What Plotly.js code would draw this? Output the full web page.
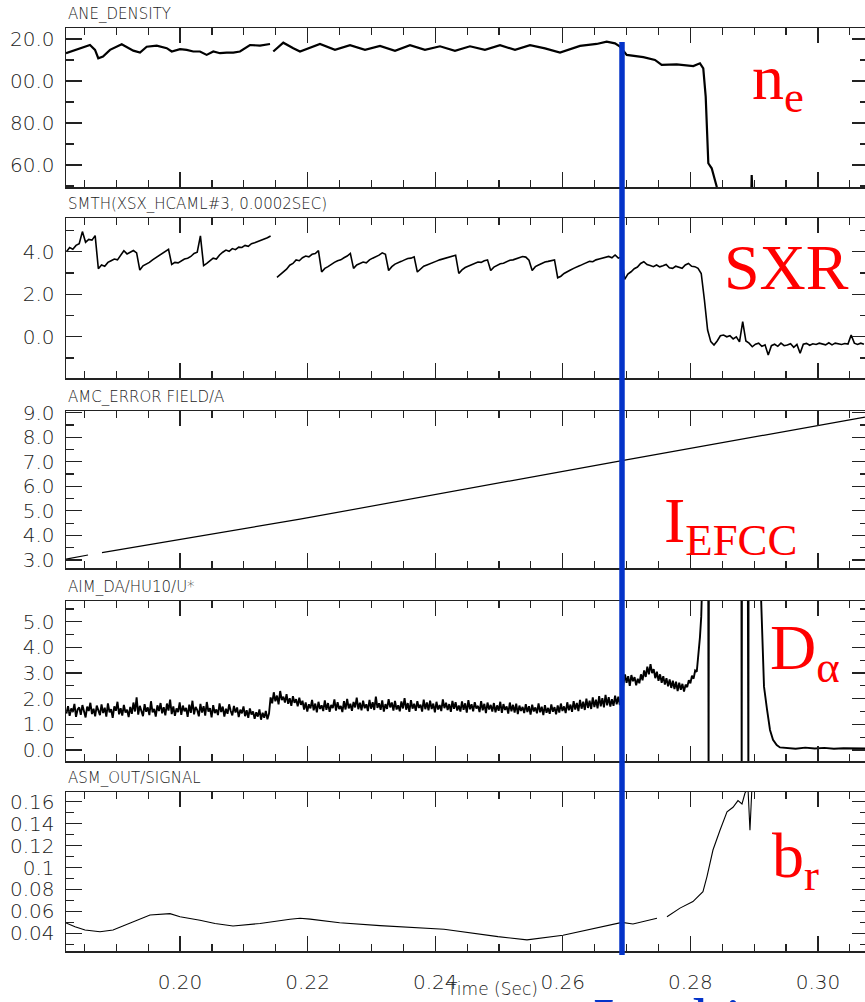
<!DOCTYPE html>
<html>
<head>
<meta charset="utf-8">
<script src="https://cdn.plot.ly/plotly-3.0.1.min.js"></script>
<style>
html,body{margin:0;padding:0;overflow:hidden;background:#fff;width:865px;height:1002px}
#chart{width:870px;height:1002px}
</style>
</head>
<body>
<div id="chart"></div>
<script>
// ---------------- DATA ----------------
const timeRange = [0.18213, 0.30784];
const lockTime = 0.26928;           // blue vertical marker (s)
const lockLabel = 'Locking';        // blue caption below the plot (cut by the picture edge)

// Panel 1: ANE_DENSITY
const neTime = [0.18213,0.18381,0.18538,0.18589,0.18668,0.18719,0.18793,0.18903,0.19086,0.19165,0.19268,0.19373,0.19478,0.19635,0.19792,0.1987,0.2,0.20105,0.20208,0.20313,0.20418,0.20522,0.20627,0.20732,0.20835,0.2094,0.21097,0.21254,0.21411,0.2144,0.21462,0.21619,0.21776,0.21881,0.22194,0.22429,0.22665,0.229,0.23135,0.2337,0.23605,0.2384,0.24075,0.2431,0.24545,0.2478,0.25016,0.25251,0.25486,0.25721,0.25956,0.2627,0.26531,0.26688,0.26818,0.26897,0.27002,0.27262,0.27445,0.2755,0.27785,0.28046,0.2815,0.28202,0.2824,0.28281,0.28334,0.28412,0.2845,0.2895,0.28961,0.2898,0.3075];
const neValue = [113.2,114.8,116.3,117.1,114.8,110.8,111.6,114.8,117.5,116.3,114.4,113.5,116.3,116.8,115.6,114,115.1,114.8,114,114,112.4,114,113.2,113.5,113.5,114,117.1,116.8,117.6,null,114,118.2,115.6,114,117.6,114.8,117,114.8,116.7,114.3,117,114.8,116.5,114.3,116.5,114.8,117,114.8,117,115.5,113.5,116.7,117.6,118.7,117.9,116.3,112.4,111.3,110,107.6,107.9,107.1,108.4,106,92.5,60.8,58.4,49.7,40,40,55.2,40,40];
const neTickAlias = {"120.0": "20.0", "100.0": "00.0"};

// Panel 2: SMTH(XSX_HCAML#3, 0.0002SEC) — sampled every sxrStep from sxrStart
const sxrStart = 0.1822, sxrStep = 0.0005;
const sxrValue = [
4.00,4.20,4.12,4.30,4.38,4.95,4.45,4.58,4.55,4.76,
3.20,3.38,3.32,3.50,3.58,3.66,3.62,3.82,4.05,3.90,
3.98,4.06,3.95,3.14,3.34,3.42,3.50,3.62,3.72,3.80,
3.92,4.02,4.12,3.40,3.50,3.48,3.58,3.66,3.70,3.78,
3.92,3.98,4.75,3.35,3.45,3.58,3.70,3.66,3.85,3.98,
4.08,4.02,4.15,4.10,4.22,4.20,4.30,4.26,4.38,4.42,
4.48,4.52,4.58,4.66,4.74,null,2.80,2.92,3.05,3.18,
3.37,3.45,3.62,3.58,3.72,3.80,3.76,3.88,3.92,4.05,
3.05,3.22,3.30,3.42,3.50,3.58,3.62,3.72,3.80,3.92,
3.22,3.38,3.45,3.52,3.48,3.62,3.70,3.76,3.84,3.95,
3.88,3.12,3.30,3.42,3.50,3.55,3.62,3.68,3.70,3.76,
3.05,3.20,3.32,3.38,3.45,3.50,3.56,3.62,3.66,3.72,
3.74,3.80,3.84,2.98,3.15,3.26,3.32,3.40,3.44,3.52,
3.50,3.58,3.62,3.12,3.28,3.36,3.44,3.46,3.55,3.60,
3.62,3.68,3.72,3.78,3.75,3.60,3.12,3.30,3.38,3.45,
3.52,3.55,3.60,3.62,2.78,2.85,2.98,3.08,3.14,3.22,
3.30,3.35,3.42,3.48,3.55,3.53,3.62,3.66,3.70,3.75,
3.78,3.72,3.85,3.70,3.76,2.70,2.95,3.06,3.20,3.28,
3.45,3.53,3.40,3.35,3.30,3.38,3.29,3.34,3.40,3.25,
3.22,3.32,3.28,3.22,3.38,3.45,3.32,3.30,3.22,2.98,
1.73,0.32,-0.23,-0.39,-0.20,0.05,0.08,0.00,0.05,-0.10,
0.00,-0.24,0.71,-0.20,-0.30,-0.47,-0.35,-0.30,-0.45,-0.38,
-0.86,-0.42,-0.35,-0.45,-0.30,-0.42,-0.39,-0.33,-0.50,-0.36,
-0.78,-0.35,-0.31,-0.40,-0.33,-0.36,-0.30,-0.34,-0.38,-0.28,
-0.38,-0.30,-0.34,-0.36,-0.32,-0.34,0.08,-0.30,-0.36,-0.30,-0.35];

// Panel 3: AMC_ERROR FIELD/A
const efTime = [0.18213,0.18558,0.1862,0.18777,0.21881,0.26928,0.30737];
const efValue = [3.03,3.2,null,3.3,4.66,7.05,8.82];

// Panel 4: AIM_DA/HU10/U* — sampled every daStep; before the marker and after it
const daStart = 0.1822, daStep = 0.00025;
const daBefore = [
1.42,1.71,1.33,1.62,1.48,1.80,1.29,1.58,1.66,1.37,1.75,1.45,1.27,1.69,1.52,1.84,1.40,1.61,1.31,1.73,
1.50,1.36,1.78,1.44,1.65,1.30,1.82,1.47,1.59,1.25,1.70,1.53,1.88,1.39,1.63,1.34,1.76,1.46,1.57,1.28,
1.68,1.41,1.85,1.50,2.05,1.38,1.72,1.55,1.32,1.79,1.49,1.66,1.36,1.90,1.47,1.60,1.30,1.74,1.52,1.83,
1.43,1.67,1.35,1.81,1.54,1.96,1.40,1.70,1.33,1.62,1.48,1.86,1.37,1.73,1.51,1.64,1.29,1.77,1.45,1.92,
1.39,1.68,1.56,1.31,1.80,1.46,1.71,1.34,1.87,1.50,1.63,1.27,1.75,1.44,1.58,1.36,1.82,1.48,1.69,1.30,
1.61,1.41,1.78,1.52,1.35,1.72,1.46,1.66,1.28,1.57,1.43,1.70,1.32,1.55,1.25,1.62,1.38,1.50,1.22,1.47,
1.30,1.58,1.18,1.45,1.26,1.52,1.20,1.42,
2.05,1.82,2.25,1.90,2.12,1.78,2.30,1.95,2.08,1.85,2.18,1.80,2.02,1.72,2.10,1.84,1.98,1.70,2.04,1.76,
1.92,1.58,1.85,1.50,1.78,1.62,1.95,1.55,1.81,1.47,1.88,1.60,1.74,1.52,1.93,1.57,1.83,1.49,1.76,1.63,
1.97,1.54,1.86,1.60,1.72,1.48,1.90,1.58,1.99,1.62,1.80,1.53,1.87,1.66,2.04,1.59,1.84,1.55,1.92,1.63,
1.78,1.52,1.95,1.61,1.86,1.56,2.08,1.64,1.82,1.57,1.93,1.50,1.79,1.60,1.98,1.66,1.85,1.54,1.91,1.58,
1.74,1.51,1.89,1.62,2.02,1.57,1.83,1.49,1.94,1.61,1.80,1.53,1.90,1.64,1.77,1.50,1.96,1.59,1.85,1.55,
1.92,1.60,1.81,1.47,1.88,1.58,1.75,1.52,1.97,1.63,1.84,1.56,1.79,1.49,1.91,1.61,1.86,1.54,1.73,1.50,
1.89,1.57,1.82,1.46,1.94,1.59,1.78,1.51,1.86,1.62,1.72,1.48,1.90,1.55,1.80,1.44,1.85,1.58,1.76,1.50,
1.83,1.47,1.74,1.53,1.88,1.45,1.79,1.56,1.70,1.42,1.85,1.51,1.76,1.46,1.81,1.40,1.73,1.52,1.68,1.44,
1.79,1.48,1.71,1.38,1.77,1.50,1.66,1.43,1.82,1.47,1.69,1.36,1.75,1.45,1.64,1.41,1.78,1.49,1.67,1.39,
1.74,1.46,1.81,1.52,1.70,1.44,1.86,1.55,1.77,1.49,1.90,1.58,1.83,1.52,1.95,1.61,1.88,1.56,2.00,1.64,
1.92,1.60,2.05,1.67,1.96,1.62,2.10,1.70,2.02,1.66,2.15,1.74,2.06,1.69,1.98,1.72,2.12,1.78,2.08,1.75,
2.02];
const daAfterStart = 0.2695;
const daAfter = [
2.55,2.95,2.62,2.88,2.50,2.92,2.68,2.84,2.52,2.78,
2.60,2.95,2.72,3.10,2.85,3.25,2.95,3.35,3.00,3.15,
2.80,3.05,2.70,2.95,2.62,2.88,2.55,2.80,2.48,2.75,
2.42,2.70,2.38,2.66,2.30,2.62,2.35,2.58,2.28,2.55,
2.45,2.72,2.60,2.90,2.78,3.10,3.05,3.60,4.40];
const daSpikeTime = [0.2817,0.2819,0.2828,0.28285,0.2829,0.2880,0.28804,0.28808,0.2890,0.28903,0.28906,0.28909,0.28912,
  0.29107,0.29122,0.29154,0.292,0.29248,0.29295,0.29353,0.29404,0.2950,0.2965,0.2980,0.2995,0.3010,0.3025,0.3040,0.3074];
const daSpikeValue = [5.2,7,7,-1,7,7,-1,7,7,-1,7,-1,7,
  6,4.5,2.47,1.6,0.78,0.4,0.19,0.1,0.08,0.05,0.09,0.06,0.08,0.05,0.07,0.06];

// Panel 5: ASM_OUT/SIGNAL
const brTime = [0.18213,0.18354,0.18511,0.18746,0.1895,0.19216,0.1953,0.19843,0.2,0.20313,0.20549,0.20831,0.21254,0.21724,0.21881,0.2204,0.22502,0.23135,0.24138,0.24984,0.25439,0.26003,0.26395,0.26928,0.271,0.27476,0.2755,0.27633,0.27837,0.2804,0.28197,0.2826,0.28354,0.28464,0.28574,0.28668,0.28746,0.28809,0.28856,0.28903,0.28934,0.28966,0.2905,0.3074];
const brValue = [0.0495,0.046,0.043,0.0415,0.043,0.049,0.0567,0.058,0.0552,0.052,0.049,0.0467,0.049,0.0528,0.0537,0.053,0.0497,0.047,0.0437,0.037,0.034,0.0382,0.043,0.050,0.0485,0.0537,null,0.0552,0.063,0.069,0.078,0.0918,0.116,0.134,0.1508,0.155,0.161,0.158,0.168,0.172,0.134,0.175,0.2,0.2];

// ---------------- LAYOUT (pixels of the 865x1002 picture) ----------------
const H = 1002, PL = 66, PR = 868;
const panelPx = [[28,187],[218,378],[411,568],[601,761],[792,951]];
const px2x = px => (px - PL) / (PR - PL);
const px2y = py => 1 - py / H;
const sampled = (t0, dt, vals) => vals.map((_, i) => t0 + i * dt);

const lineCol = '#222';
const tickFont = {family: 'DejaVu Sans', size: 20, color: '#222', weight: 300};

function xAxis(i) {
  const ax = {
    domain: [0, 1], range: timeRange, anchor: 'y' + (i === 1 ? '' : i),
    showline: true, linecolor: lineCol, linewidth: 1.5, mirror: 'ticks',
    ticks: 'inside', ticklen: 15, tickwidth: 1.2, tickcolor: lineCol,
    tick0: 0.2, dtick: 0.02, tickformat: '.2f',
    minor: {ticks: 'inside', ticklen: 7, tickwidth: 1.2, tickcolor: lineCol, tick0: 0.2, dtick: 0.005, showgrid: false},
    showgrid: false, zeroline: false, showticklabels: i === 5,
    tickfont: tickFont, ticklabelstandoff: 12
  };
  if (i > 1) ax.matches = 'x';
  return ax;
}
function yAxis(i, range, dtick, minorDtick, fmt, extra) {
  const p = panelPx[i - 1];
  return Object.assign({
    domain: [px2y(p[1]), px2y(p[0])], range: range, anchor: 'x' + (i === 1 ? '' : i),
    showline: true, linecolor: lineCol, linewidth: 1.5, mirror: 'ticks',
    ticks: 'inside', ticklen: 16, tickwidth: 1.2, tickcolor: lineCol,
    tick0: 0, dtick: dtick, tickformat: fmt,
    minor: {ticks: 'inside', ticklen: 8, tickwidth: 1.2, tickcolor: lineCol, tick0: 0, dtick: minorDtick, showgrid: false},
    showgrid: false, zeroline: false, tickfont: tickFont, ticklabelstandoff: 6
  }, extra || {});
}

const traces = [
  {x: neTime, y: neValue, xaxis: 'x', yaxis: 'y', mode: 'lines', line: {color: '#000', width: 2.2}, connectgaps: false},
  {x: sampled(sxrStart, sxrStep, sxrValue), y: sxrValue, xaxis: 'x2', yaxis: 'y2', mode: 'lines', line: {color: '#000', width: 1.6}, connectgaps: false},
  {x: efTime, y: efValue, xaxis: 'x3', yaxis: 'y3', mode: 'lines', line: {color: '#000', width: 1.2}, connectgaps: false},
  {x: sampled(daStart, daStep, daBefore).concat(sampled(daAfterStart, daStep, daAfter), daSpikeTime),
   y: daBefore.concat(daAfter, daSpikeValue), xaxis: 'x4', yaxis: 'y4', mode: 'lines', line: {color: '#000', width: 1.9}},
  {x: brTime, y: brValue, xaxis: 'x5', yaxis: 'y5', mode: 'lines', line: {color: '#000', width: 1.1}, connectgaps: false}
];

const panelTitles = ['ANE_DENSITY', 'SMTH(XSX_HCAML#3, 0.0002SEC)', 'AMC_ERROR FIELD/A', 'AIM_DA/HU10/U*', 'ASM_OUT/SIGNAL'];
const titleFont = {family: 'DejaVu Sans', size: 15, color: '#222', weight: 300};
const annotations = panelTitles.map((t, i) => ({
  text: t, xref: 'paper', yref: 'paper', x: 0, y: px2y(panelPx[i][0] - 3),
  xanchor: 'left', yanchor: 'bottom', showarrow: false, font: titleFont
}));
annotations.push({text: 'Time (Sec)', xref: 'paper', yref: 'paper', x: px2x(492), y: px2y(989),
  xanchor: 'center', yanchor: 'middle', showarrow: false,
  font: {family: 'DejaVu Sans', size: 17, color: '#222', weight: 300}});
const redFont = {family: 'Liberation Serif, Times New Roman, serif', size: 64, color: '#ff0000'};
[
  ['n<sub>e</sub>', 750, 82],
  ['SXR', 722, 268],
  ['I<sub>EFCC</sub>', 662, 525],
  ['D<sub>α</sub>', 768, 652],
  ['b<sub>r</sub>', 770, 860]
].forEach(([t, x, y]) => annotations.push({
  text: t, xref: 'paper', yref: 'paper', x: px2x(x), y: px2y(y), xanchor: 'left', yanchor: 'middle',
  showarrow: false, font: redFont
}));
// blue caption, only its top edge is inside the picture
annotations.push({text: lockLabel, xref: 'paper', yref: 'paper', x: px2x(591), y: px2y(1020),
  xanchor: 'left', yanchor: 'middle', showarrow: false,
  font: {family: 'Liberation Serif, Times New Roman, serif', size: 64, color: '#0433c9'}});

const layout = {
  width: 870, height: H, margin: {l: PL, r: 870 - PR, t: 0, b: 0},
  paper_bgcolor: '#fff', plot_bgcolor: '#fff', showlegend: false,
  xaxis: xAxis(1), xaxis2: xAxis(2), xaxis3: xAxis(3), xaxis4: xAxis(4), xaxis5: xAxis(5),
  yaxis: yAxis(1, [49.5, 125.2], 20, 10, '.1f', {labelalias: neTickAlias}),
  yaxis2: yAxis(2, [-1.94, 5.59], 2, 1, '.1f'),
  yaxis3: yAxis(3, [2.67, 9.07], 1, 0.5, '.1f'),
  yaxis4: yAxis(4, [-0.43, 5.81], 1, 0.5, '.1f'),
  yaxis5: yAxis(5, [0.0239, 0.1689], 0.02, 0.01, ''),
  shapes: [{type: 'line', xref: 'x', yref: 'paper', x0: lockTime, x1: lockTime, y0: px2y(955), y1: px2y(42),
            line: {color: '#0433c9', width: 5.5}, layer: 'above'}],
  annotations: annotations
};

Plotly.newPlot('chart', traces, layout, {displayModeBar: false, staticPlot: true});
</script>
</body>
</html>
